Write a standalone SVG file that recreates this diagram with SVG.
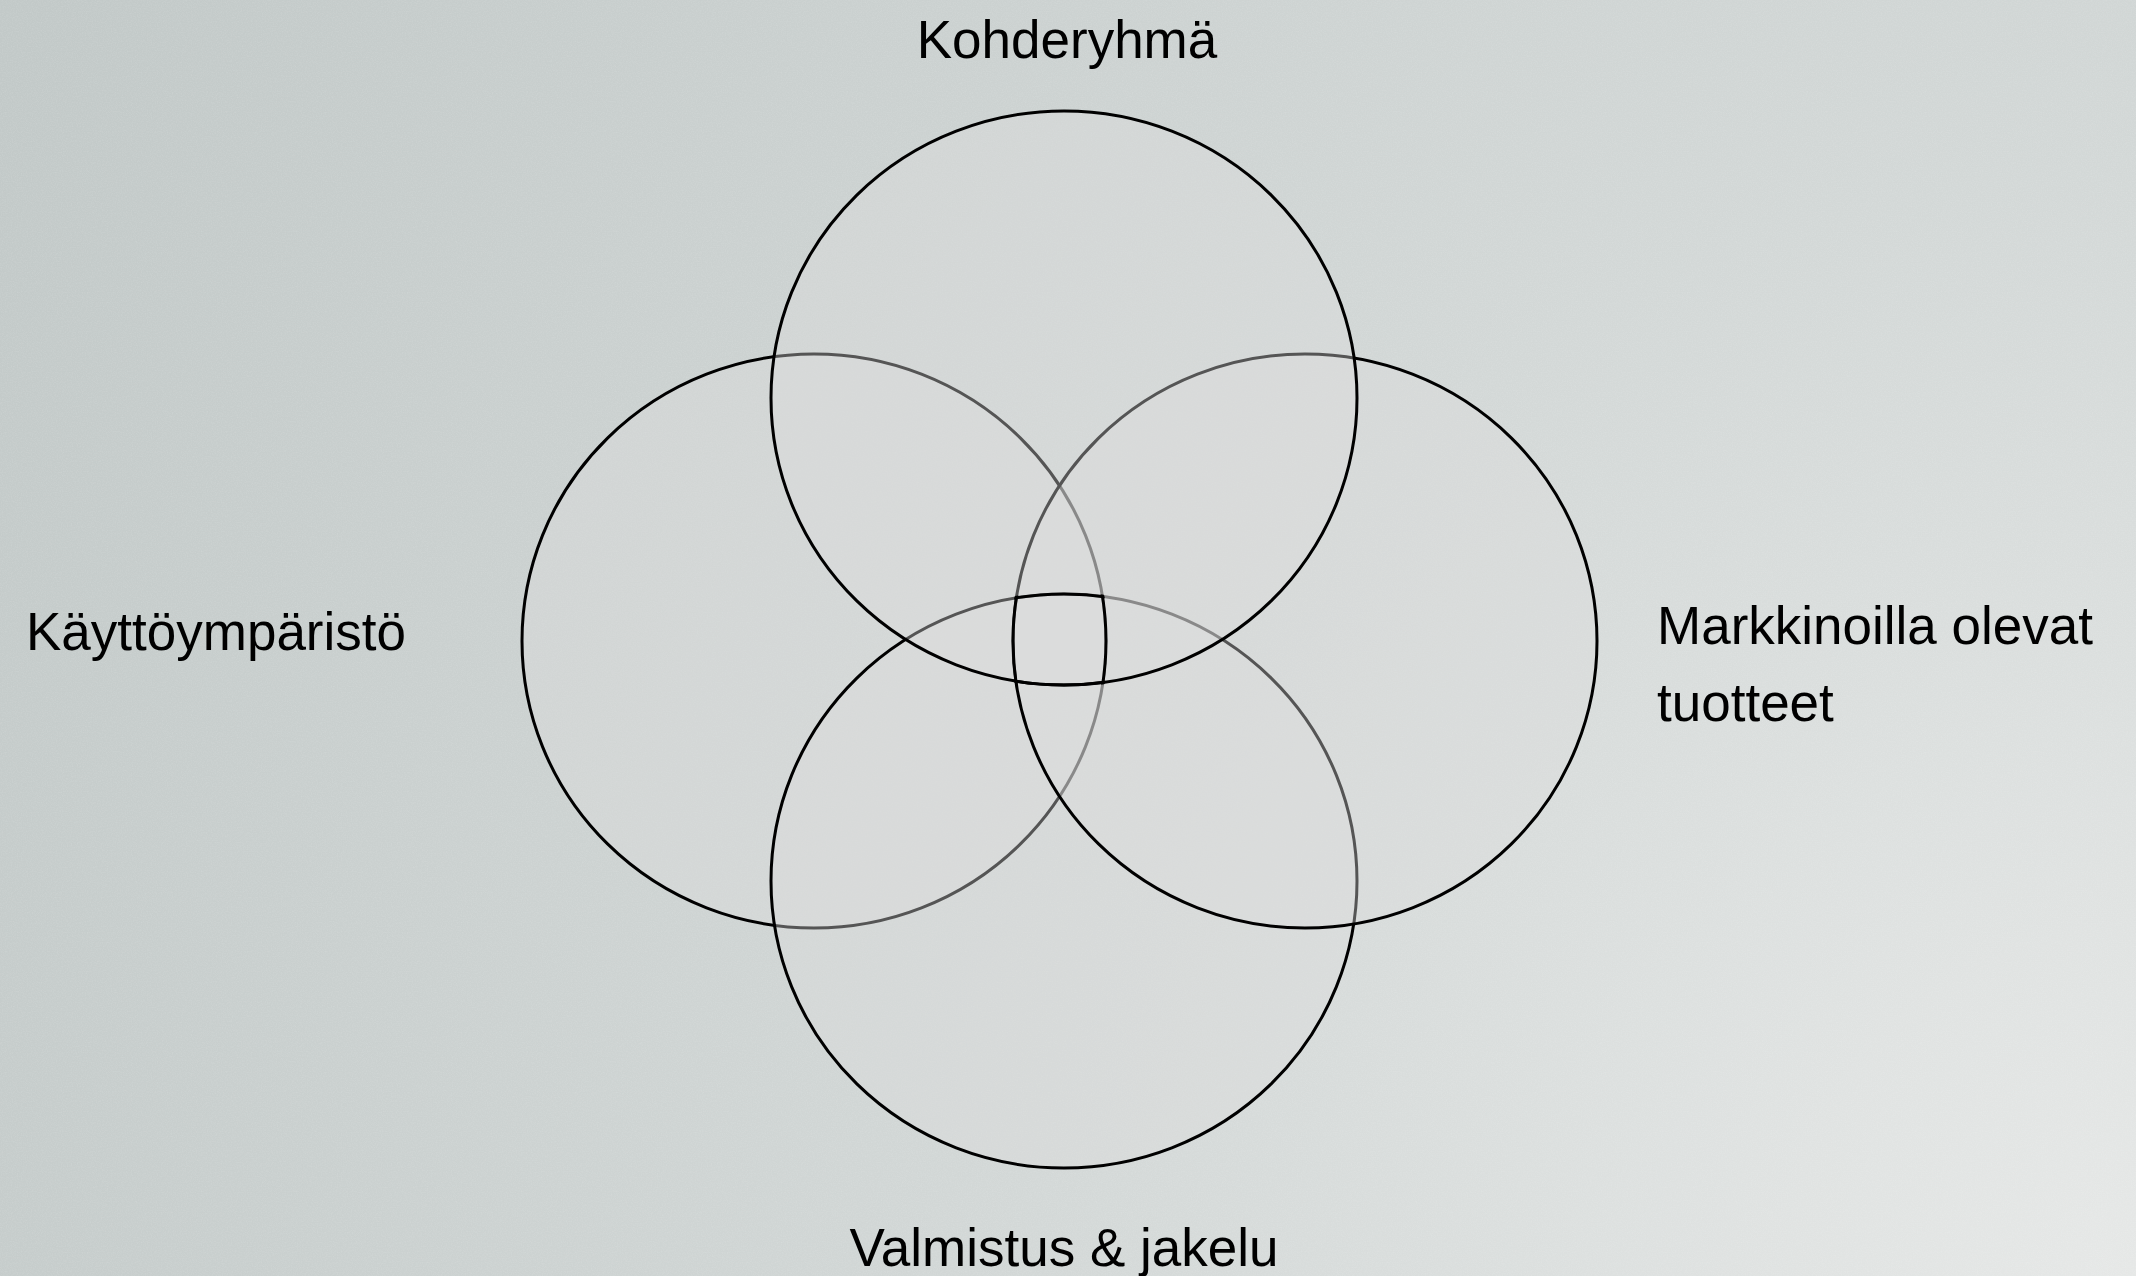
<svg xmlns="http://www.w3.org/2000/svg" width="2136" height="1276" viewBox="0 0 2136 1276">
  <defs>
    <radialGradient id="bg" cx="2136" cy="1276" r="2450" gradientUnits="userSpaceOnUse">
      <stop offset="0" stop-color="#e6e8e7"/>
      <stop offset="0.45" stop-color="#d3d8d7"/>
      <stop offset="1" stop-color="#c2c9c8"/>
    </radialGradient>
    <filter id="noise" x="0" y="0" width="100%" height="100%">
      <feTurbulence type="fractalNoise" baseFrequency="0.8" numOctaves="2" seed="3"/>
      <feColorMatrix type="matrix" values="0 0 0 0 1  0 0 0 0 1  0 0 0 0 1  0 0 0 -1.6 1.0"/>
    </filter>
    <clipPath id="cT"><ellipse cx="1064" cy="398" rx="295" ry="289"/></clipPath>
    <clipPath id="cL"><ellipse cx="814" cy="641" rx="294" ry="289"/></clipPath>
    <clipPath id="cB"><ellipse cx="1064" cy="881" rx="295" ry="289"/></clipPath>
    <clipPath id="cR"><ellipse cx="1305" cy="641" rx="294" ry="289"/></clipPath>
  </defs>
  <style>
    .c { fill: rgb(221,221,221); fill-opacity: 0.385; stroke: #000; stroke-width: 3; }
    .o { fill: none; stroke: #000; stroke-width: 3; }
    .t { font-family: "Liberation Sans", Arial, sans-serif; font-size: 53px; fill: #000; }
  </style>
  <rect width="2136" height="1276" fill="url(#bg)"/>
  <rect width="2136" height="1276" filter="url(#noise)" opacity="0.12"/>

  <g id="node-kayttoymparisto">
    <ellipse class="c" cx="814" cy="641" rx="292" ry="287"/>
    <text class="t" x="26" y="650">Käyttöympäristö</text>
  </g>
  <g id="node-valmistus">
    <ellipse class="c" cx="1064" cy="881" rx="293" ry="287"/>
    <text class="t" x="1064" y="1266" text-anchor="middle">Valmistus &amp; jakelu</text>
  </g>
  <g id="node-markkinoilla">
    <ellipse class="c" cx="1305" cy="641" rx="292" ry="287"/>
    <text class="t" x="1657" y="644">Markkinoilla olevat</text>
    <text class="t" x="1657" y="721">tuotteet</text>
  </g>
  <g id="node-kohderyhma">
    <ellipse class="c" cx="1064" cy="398" rx="293" ry="287"/>
    <text class="t" x="1067" y="58" text-anchor="middle">Kohderyhmä</text>
  </g>

  <g id="connectors">
    <g clip-path="url(#cT)"><g clip-path="url(#cL)"><g clip-path="url(#cB)"><g clip-path="url(#cR)">
      <ellipse class="o" cx="814" cy="641" rx="292" ry="287"/>
      <ellipse class="o" cx="1064" cy="881" rx="293" ry="287"/>
      <ellipse class="o" cx="1305" cy="641" rx="292" ry="287"/>
      <ellipse class="o" cx="1064" cy="398" rx="293" ry="287"/>
    </g></g></g></g>
  </g>
</svg>
